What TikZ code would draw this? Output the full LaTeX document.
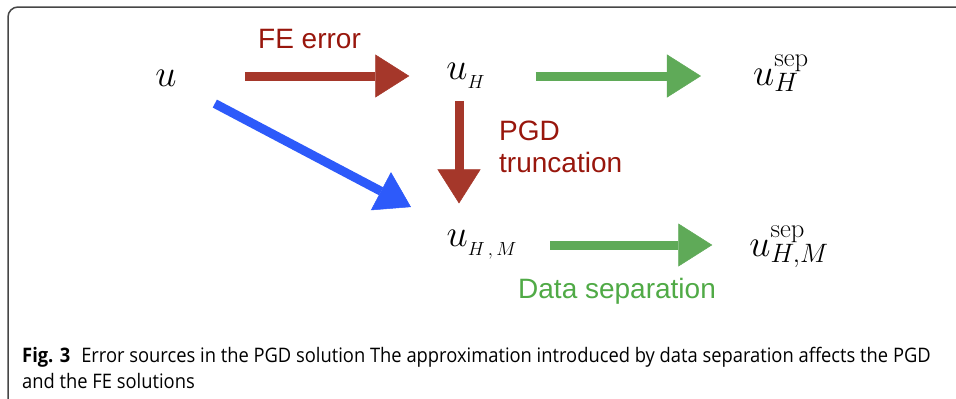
\RequirePackage{fix-cm}
\documentclass[tikz,border=0pt]{standalone}
\usepackage{fontspec}
\usetikzlibrary{arrows.meta,calc}
\newfontfamily\lblfont{Liberation Sans}
\newfontfamily\capfont[FakeStretch=0.917]{Open Sans}
\definecolor{redtxt}{RGB}{152,22,12}
\definecolor{redarr}{RGB}{165,55,42}
\definecolor{bluearr}{RGB}{45,90,250}
\definecolor{greenarr}{RGB}{95,170,88}
\definecolor{greentxt}{RGB}{80,170,70}
\definecolor{framec}{RGB}{70,70,70}
\tikzset{
  mathnode/.style={inner sep=0pt, anchor=base, font=\fontsize{38}{40}\selectfont},
  lbl/.style={inner sep=0pt, anchor=base west, align=left, font=\lblfont\fontsize{28}{32}\selectfont},
  captext/.style={inner sep=0pt, anchor=base west, font=\capfont\fontsize{20}{25}\selectfont},
  fat/.style={line width=9pt, -{Triangle[length=34pt,width=43pt,line width=0.5pt]}},
}
\begin{document}
\begin{tikzpicture}[x=1pt,y=1pt]
\useasboundingbox (0,0) rectangle (956,-399);
\begin{scope}
\clip (0,0) rectangle (956,-399);
\draw[framec, line width=1.5pt, rounded corners=10pt] (8,-7) rectangle (990,-412);
\end{scope}
% math nodes
\node[mathnode] (u) at (166,-86) {$u$};
\node[mathnode] (uH) at (466,-79) {$u_{_H}$};
\node[mathnode] (uHs) at (781,-85) {$u_H^{\mathrm{sep}}$};
\node[mathnode] (uHM) at (482,-246) {$u_{_{H\,,\,M}}$};
\node[mathnode] (uHMs) at (789,-256) {$u_{H,M}^{\mathrm{sep}}$};
\coordinate (row1) at (0,-76);
\coordinate (row2) at (0,-245);
\coordinate (col) at (459,0);
% arrows
\draw[fat, redarr, shorten <=68pt, shorten >=37pt] (u.east |- row1) -- (uH.west |- row1);
\draw[fat, greenarr, shorten <=50pt, shorten >=52pt] (uH.east |- row1) -- (uHs.west |- row1);
\draw[fat, redarr, shorten <=12pt, shorten >=26pt] (uH.south -| col) -- (uHM.north -| col);
\draw[fat, bluearr, shorten <=43pt, shorten >=48pt] (u) -- (uHM);
\draw[fat, greenarr, shorten <=33pt, shorten >=37pt] (uHM.east |- row2) -- (uHMs.west |- row2);
% labels
\node[lbl, text=redtxt] (fe) at (258,-48) {FE error};
\node[lbl, text=redtxt] (pgd) at (499,-172) {PGD\\truncation};
\node[lbl, text=greentxt] (ds) at (518,-298) {Data separation};
% caption
\node[captext] (cap1) at (22,-362) {\textbf{Fig. 3}\hspace{0.55em}Error sources in the PGD solution The approximation introduced by data separation affects the PGD};
\node[captext] (cap2) at (22,-388) {and the FE solutions};
\end{tikzpicture}
\end{document}
